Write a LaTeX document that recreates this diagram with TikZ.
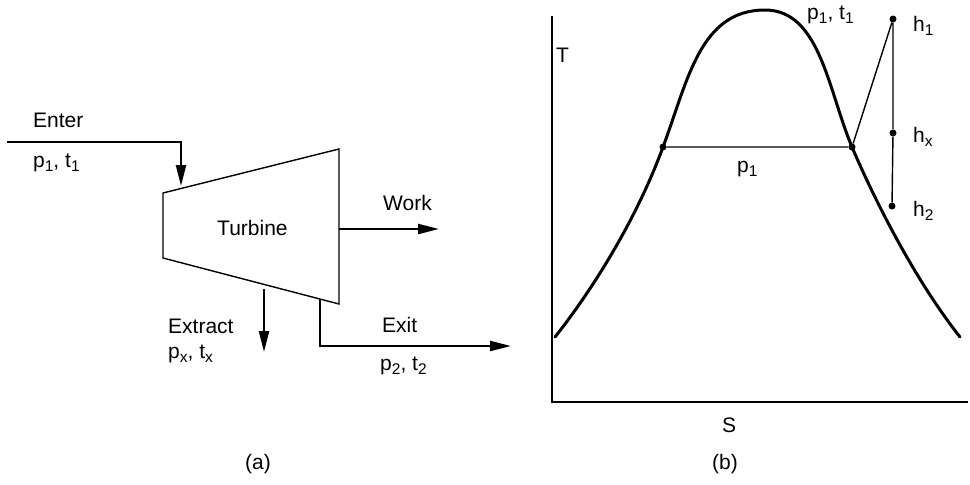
\documentclass[tikz,border=0pt]{standalone}
\usepackage{fontspec}
\setmainfont{Liberation Sans}
\usetikzlibrary{arrows.meta}
\newcommand{\lowidx}[1]{\raisebox{-0.45ex}{\fontsize{15.5}{15.5}\selectfont #1}}

\begin{document}
\begin{tikzpicture}[x=1pt, y=-1pt,
  lbl/.style={font=\fontsize{21}{24}\selectfont, inner sep=0pt},
  flow/.style={-{Triangle[length=21pt,width=10pt]}, line width=2.2pt},
  thinline/.style={line width=1.4pt},
  dome/.style={line width=3pt, line join=round, line cap=round},
  dot/.style={circle, fill, inner sep=0pt, minimum size=7pt},
]
  \useasboundingbox (0,0) rectangle (970,485);

  % (a) turbine
  \coordinate (tl) at (163,193);
  \coordinate (tr) at (339,149);
  \coordinate (br) at (339,304);
  \coordinate (bl) at (163,258);
  \draw[thinline, line join=miter] (tl) -- (tr) -- (br) -- (bl) -- cycle;
  \node[lbl, anchor=base west] (turb) at (217,235) {Turbine};

  \coordinate (in0) at (7,142);
  \coordinate (in1) at (181,142);
  \coordinate (in2) at (181,186);
  \draw[flow] (in0) -- (in1) -- (in2);
  \node[lbl, anchor=base west] (enter) at (33,127) {Enter};
  \node[lbl, anchor=base west] (pin) at (33,167) {p\lowidx{1}, t\lowidx{1}};

  \coordinate (w0) at (339,229);
  \coordinate (w1) at (439,229);
  \draw[flow] (w0) -- (w1);
  \node[lbl, anchor=base west] (work) at (383,210) {Work};

  \coordinate (x0) at (264,289);
  \coordinate (x1) at (264,352);
  \draw[flow] (x0) -- (x1);
  \node[lbl, anchor=base west] (extr) at (168,333) {Extract};
  \node[lbl, anchor=base west] (pext) at (168,358) {p\lowidx{x}, t\lowidx{x}};

  \coordinate (e0) at (320,299);
  \coordinate (e1) at (320,346);
  \coordinate (e2) at (511,346);
  \draw[flow] (e0) -- (e1) -- (e2);
  \node[lbl, anchor=base west] (exit) at (382,332) {Exit};
  \node[lbl, anchor=base west] (pex) at (380,370) {p\lowidx{2}, t\lowidx{2}};

  \node[lbl] (capa) at (258,464) {(a)};

  % (b) T-S diagram
  \coordinate (ytop) at (552,16);
  \coordinate (orig) at (552,402);
  \coordinate (xend) at (968,402);
  \draw[thinline] (ytop) -- (orig) -- (xend);
  \node[lbl, anchor=base west] (tlab) at (556,62) {T};
  \node[lbl, anchor=base] (slab) at (729,432) {S};

  \node[dot] (liq) at (663,147) {};
  \node[dot] (vap) at (852,147) {};
  \coordinate (peak) at (765,10);
  \draw[dome] (555,337) .. controls (600,280) and (640,210) .. (liq.center)
    .. controls (688,80) and (700,10) .. (peak)
    .. controls (820,10) and (828,90) .. (vap.center)
    .. controls (875,201) and (915,280) .. (960,337);

  \node[dot] (h1) at (893,19) {};
  \node[dot] (hx) at (893,133) {};
  \node[dot] (h2) at (892,206) {};
  \draw[thinline] (liq) -- (vap) -- (h1) -- (hx) -- (h2);

  \node[lbl, anchor=base west] (ptop) at (807,19) {p\lowidx{1}, t\lowidx{1}};
  \node[lbl, anchor=base west] (pmid) at (737,172) {p\lowidx{1}};
  \node[lbl, anchor=base west] (h1lab) at (913,31) {h\lowidx{1}};
  \node[lbl, anchor=base west] (hxlab) at (913,142) {h\lowidx{x}};
  \node[lbl, anchor=base west] (h2lab) at (913,216) {h\lowidx{2}};

  \node[lbl] (capb) at (725,464) {(b)};
\end{tikzpicture}
\end{document}
